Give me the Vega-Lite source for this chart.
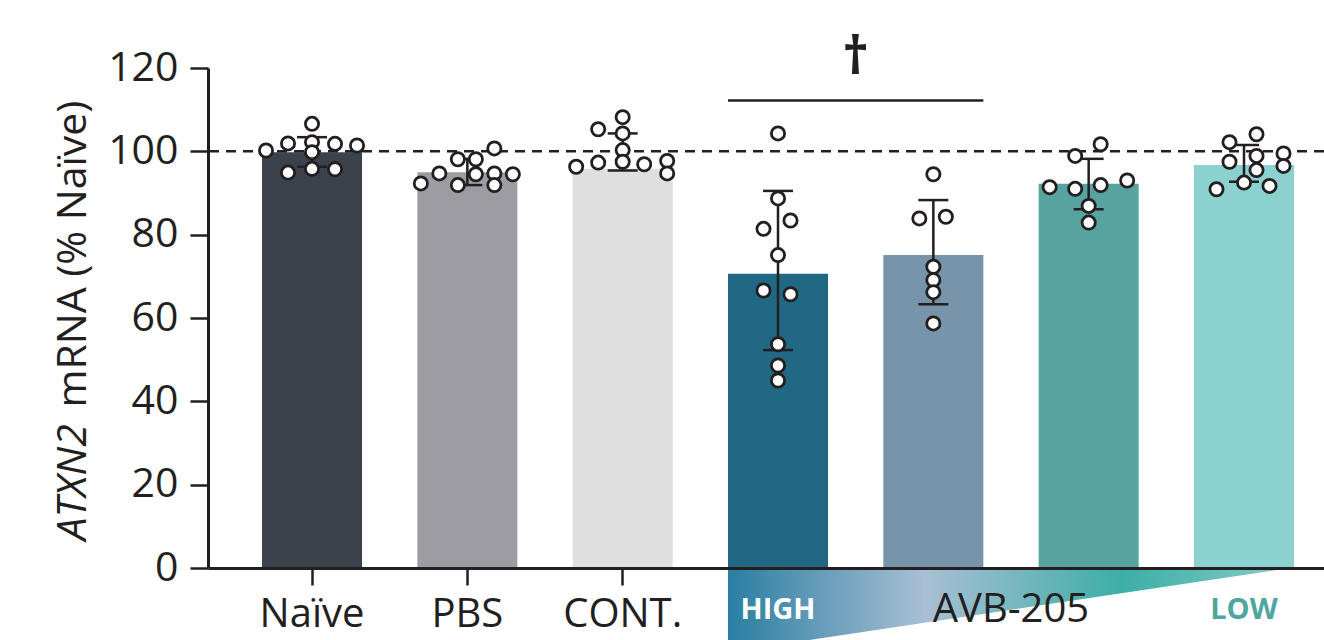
{
  "$schema": "https://vega.github.io/schema/vega-lite/v6.json",
  "width": 1116,
  "height": 500,
  "autosize": {"type": "none"},
  "padding": {"left": 208, "top": 68, "right": 0, "bottom": 72},
  "background": "white",
  "config": {
    "view": {"stroke": null},
    "font": "Open Sans",
    "axis": {"labelFont": "Open Sans", "titleFont": "Open Sans", "grid": false}
  },
  "datasets": {
    "bars": [
      {"group": "Naïve", "value": 99.8, "lo": 96.3, "hi": 103.4},
      {"group": "PBS", "value": 95.0, "lo": 91.9, "hi": 98.2},
      {"group": "CONT.", "value": 95.8, "lo": 95.4, "hi": 104.3},
      {"group": "AVB-205 HIGH", "value": 70.6, "lo": 52.3, "hi": 90.5},
      {"group": "AVB-205 MID-HIGH", "value": 75.1, "lo": 63.3, "hi": 88.3},
      {"group": "AVB-205 MID-LOW", "value": 92.2, "lo": 86.1, "hi": 98.2},
      {"group": "AVB-205 LOW", "value": 96.7, "lo": 92.7, "hi": 101.5}
    ],
    "dots": [
      {"group": "Naïve", "jitter": -0.92, "value": 100.2},
      {"group": "Naïve", "jitter": -0.48, "value": 101.9},
      {"group": "Naïve", "jitter": 0, "value": 106.6},
      {"group": "Naïve", "jitter": 0, "value": 102.2},
      {"group": "Naïve", "jitter": 0, "value": 99.8},
      {"group": "Naïve", "jitter": 0.46, "value": 101.8},
      {"group": "Naïve", "jitter": 0.9, "value": 101.4},
      {"group": "Naïve", "jitter": -0.48, "value": 94.9},
      {"group": "Naïve", "jitter": 0, "value": 95.8},
      {"group": "Naïve", "jitter": 0.46, "value": 95.7},
      {"group": "PBS", "jitter": -0.93, "value": 92.3},
      {"group": "PBS", "jitter": -0.56, "value": 94.7},
      {"group": "PBS", "jitter": -0.19, "value": 98.1},
      {"group": "PBS", "jitter": -0.19, "value": 91.9},
      {"group": "PBS", "jitter": 0.17, "value": 98.1},
      {"group": "PBS", "jitter": 0.17, "value": 94.5},
      {"group": "PBS", "jitter": 0.54, "value": 100.7},
      {"group": "PBS", "jitter": 0.54, "value": 94.7},
      {"group": "PBS", "jitter": 0.54, "value": 91.9},
      {"group": "PBS", "jitter": 0.91, "value": 94.5},
      {"group": "CONT.", "jitter": -0.93, "value": 96.3},
      {"group": "CONT.", "jitter": -0.49, "value": 105.3},
      {"group": "CONT.", "jitter": -0.49, "value": 97.3},
      {"group": "CONT.", "jitter": 0, "value": 108.2},
      {"group": "CONT.", "jitter": 0, "value": 104.3},
      {"group": "CONT.", "jitter": 0, "value": 100.3},
      {"group": "CONT.", "jitter": 0, "value": 97.5},
      {"group": "CONT.", "jitter": 0.43, "value": 96.9},
      {"group": "CONT.", "jitter": 0.89, "value": 97.7},
      {"group": "CONT.", "jitter": 0.89, "value": 94.7},
      {"group": "AVB-205 HIGH", "jitter": 0, "value": 104.3},
      {"group": "AVB-205 HIGH", "jitter": 0, "value": 88.7},
      {"group": "AVB-205 HIGH", "jitter": -0.29, "value": 81.4},
      {"group": "AVB-205 HIGH", "jitter": 0.25, "value": 83.4},
      {"group": "AVB-205 HIGH", "jitter": 0, "value": 75.1},
      {"group": "AVB-205 HIGH", "jitter": -0.29, "value": 66.6},
      {"group": "AVB-205 HIGH", "jitter": 0.25, "value": 65.7},
      {"group": "AVB-205 HIGH", "jitter": 0, "value": 53.7},
      {"group": "AVB-205 HIGH", "jitter": 0, "value": 48.6},
      {"group": "AVB-205 HIGH", "jitter": 0, "value": 45.0},
      {"group": "AVB-205 MID-HIGH", "jitter": 0, "value": 94.5},
      {"group": "AVB-205 MID-HIGH", "jitter": -0.28, "value": 83.9},
      {"group": "AVB-205 MID-HIGH", "jitter": 0.25, "value": 84.3},
      {"group": "AVB-205 MID-HIGH", "jitter": 0, "value": 72.3},
      {"group": "AVB-205 MID-HIGH", "jitter": 0, "value": 69.1},
      {"group": "AVB-205 MID-HIGH", "jitter": 0, "value": 66.2},
      {"group": "AVB-205 MID-HIGH", "jitter": 0, "value": 58.7},
      {"group": "AVB-205 MID-LOW", "jitter": -0.78, "value": 91.4},
      {"group": "AVB-205 MID-LOW", "jitter": -0.27, "value": 98.9},
      {"group": "AVB-205 MID-LOW", "jitter": 0.24, "value": 101.7},
      {"group": "AVB-205 MID-LOW", "jitter": -0.27, "value": 91.0},
      {"group": "AVB-205 MID-LOW", "jitter": 0.24, "value": 91.9},
      {"group": "AVB-205 MID-LOW", "jitter": 0.77, "value": 93.0},
      {"group": "AVB-205 MID-LOW", "jitter": 0, "value": 86.9},
      {"group": "AVB-205 MID-LOW", "jitter": 0, "value": 82.9},
      {"group": "AVB-205 LOW", "jitter": -0.29, "value": 102.2},
      {"group": "AVB-205 LOW", "jitter": 0.25, "value": 104.1},
      {"group": "AVB-205 LOW", "jitter": -0.29, "value": 97.5},
      {"group": "AVB-205 LOW", "jitter": 0.25, "value": 98.9},
      {"group": "AVB-205 LOW", "jitter": 0.25, "value": 95.5},
      {"group": "AVB-205 LOW", "jitter": 0.79, "value": 99.5},
      {"group": "AVB-205 LOW", "jitter": 0.79, "value": 96.5},
      {"group": "AVB-205 LOW", "jitter": -0.55, "value": 90.9},
      {"group": "AVB-205 LOW", "jitter": 0, "value": 92.5},
      {"group": "AVB-205 LOW", "jitter": 0.51, "value": 91.7}
    ],
    "sig": [
      {"from": "AVB-205 HIGH", "to": "AVB-205 MID-HIGH", "y": 112.2, "mark": "†", "ly": 122.4, "mid": 3.5}
    ],
    "wedge": [
      {"pos": 2.678, "top": 0, "bottom": -20.2},
      {"pos": 6.3, "top": 0, "bottom": 0}
    ],
    "dose": [
      {"pos": 3, "label": "HIGH", "kind": "high", "ly": -10},
      {"pos": 4.5, "label": "AVB-205", "kind": "name", "ly": -10},
      {"pos": 6, "label": "LOW", "kind": "low", "ly": -10}
    ]
  },
  "layer": [
    {
      "layer": [
        {
          "data": {"name": "bars"},
          "mark": {"type": "bar", "width": 100},
          "encoding": {
            "x": {
              "field": "group", "type": "nominal", "sort": null,
              "scale": {
                "type": "band",
                "domain": ["Naïve", "PBS", "CONT.", "AVB-205 HIGH", "AVB-205 MID-HIGH", "AVB-205 MID-LOW", "AVB-205 LOW"],
                "paddingInner": 0.3562, "paddingOuter": 0.2704, "align": 0.643
              },
              "axis": {
                "title": null,
                "labelAngle": 0,
                "labelExpr": "indexof(datum.value, 'AVB') >= 0 ? '' : datum.value",
                "labelFontSize": 40,
                "labelColor": "#231f20",
                "labelPadding": 9,
                "tickSize": 17,
                "tickWidth": 2.5,
                "tickColor": {"condition": {"test": "indexof(datum.value, 'AVB') >= 0", "value": "rgba(0,0,0,0)"}, "value": "#231f20"},
                "domainColor": "#231f20",
                "domainWidth": 3,
                "zindex": 1
              }
            },
            "y": {
              "field": "value", "type": "quantitative",
              "scale": {"domain": [0, 120], "nice": false},
              "axis": {
                "values": [0, 20, 40, 60, 80, 100, 120],
                "title": "mRNA (% Naïve)",
                "titleFontSize": 41,
                "titleFontWeight": "normal",
                "titleColor": "#231f20",
                "titleAngle": -90,
                "titleAlign": "left",
                "titleBaseline": "alphabetic",
                "titleX": -123,
                "titleY": 339,
                "labelFontSize": 41,
                "labelColor": "#231f20",
                "labelPadding": 12,
                "tickSize": 18,
                "tickWidth": 2.5,
                "tickColor": "#231f20",
                "domainColor": "#231f20",
                "domainWidth": 3,
                "zindex": 1
              }
            },
            "color": {
              "field": "group", "type": "nominal", "legend": null,
              "scale": {
                "domain": ["Naïve", "PBS", "CONT.", "AVB-205 HIGH", "AVB-205 MID-HIGH", "AVB-205 MID-LOW", "AVB-205 LOW"],
                "range": ["#3a424b", "#9d9ca2", "#e0dfe0", "#216885", "#7794aa", "#57a3a0", "#8ad1d0"]
              }
            }
          }
        },
        {
          "data": {"values": [{"ref": 100}]},
          "mark": {"type": "rule", "strokeDash": [10, 7], "strokeWidth": 2.5, "color": "#231f20"},
          "encoding": {
            "y": {"field": "ref", "type": "quantitative", "scale": {"domain": [0, 120]}}
          }
        },
        {
          "data": {"name": "bars"},
          "mark": {"type": "rule", "strokeWidth": 2.5, "color": "#231f20"},
          "encoding": {
            "x": {"field": "group", "type": "nominal", "sort": null},
            "y": {"field": "lo", "type": "quantitative", "scale": {"domain": [0, 120]}},
            "y2": {"field": "hi"}
          }
        },
        {
          "data": {"name": "bars"},
          "mark": {"type": "tick", "size": 30, "thickness": 2.5, "color": "#231f20", "opacity": 1},
          "encoding": {
            "x": {"field": "group", "type": "nominal", "sort": null},
            "y": {"field": "lo", "type": "quantitative", "scale": {"domain": [0, 120]}}
          }
        },
        {
          "data": {"name": "bars"},
          "mark": {"type": "tick", "size": 30, "thickness": 2.5, "color": "#231f20", "opacity": 1},
          "encoding": {
            "x": {"field": "group", "type": "nominal", "sort": null},
            "y": {"field": "hi", "type": "quantitative", "scale": {"domain": [0, 120]}}
          }
        },
        {
          "data": {"name": "sig"},
          "mark": {"type": "rule", "strokeWidth": 2.5, "color": "#231f20"},
          "encoding": {
            "x": {"field": "from", "type": "nominal", "sort": null, "bandPosition": 0},
            "x2": {"field": "to", "bandPosition": 1},
            "y": {"field": "y", "type": "quantitative", "scale": {"domain": [0, 120]}}
          }
        }
      ]
    },
    {
      "data": {"name": "dots"},
      "mark": {"type": "point", "filled": false, "fill": "white", "fillOpacity": 1, "stroke": "#231f20", "strokeWidth": 2.8, "size": 175, "opacity": 1},
      "encoding": {
        "x": {
          "field": "group", "type": "nominal", "sort": null,
          "scale": {
            "type": "band",
            "domain": ["Naïve", "PBS", "CONT.", "AVB-205 HIGH", "AVB-205 MID-HIGH", "AVB-205 MID-LOW", "AVB-205 LOW"],
            "paddingInner": 0.3562, "paddingOuter": 0.2704, "align": 0.643
          },
          "axis": null
        },
        "xOffset": {"field": "jitter", "type": "quantitative", "scale": {"domain": [-1, 1], "nice": false, "zero": false}},
        "y": {
          "field": "value", "type": "quantitative", "scale": {"domain": [0, 120]},
          "axis": {
            "orient": "left",
            "domain": false, "ticks": false, "labels": false, "grid": false,
            "title": "ATXN2",
            "titleFontSize": 41,
            "titleFontStyle": "italic",
            "titleFontWeight": "normal",
            "titleColor": "#231f20",
            "titleAngle": -90,
            "titleAlign": "left",
            "titleBaseline": "alphabetic",
            "titleX": -123,
            "titleY": 472
          }
        }
      }
    },
    {
      "layer": [
        {
          "data": {"name": "wedge"},
          "mark": {
            "type": "area",
            "fill": {
              "gradient": "linear", "x1": 0, "y1": 0, "x2": 1, "y2": 0,
              "stops": [
                {"offset": 0, "color": "#2a7ea2"},
                {"offset": 0.35, "color": "#a9bfd4"},
                {"offset": 0.7, "color": "#3daea6"},
                {"offset": 1, "color": "#86cdc6"}
              ]
            }
          },
          "encoding": {
            "x": {"field": "pos", "type": "quantitative", "scale": {"domain": [-0.6695, 6.5151], "nice": false, "zero": false}, "axis": null},
            "y": {"field": "top", "type": "quantitative", "scale": {"domain": [0, 120]}, "axis": null},
            "y2": {"field": "bottom"}
          }
        },
        {
          "data": {"name": "sig"},
          "mark": {"type": "text", "fontSize": 52, "fontWeight": "bold", "color": "#231f20", "baseline": "middle", "align": "center"},
          "encoding": {
            "x": {"field": "mid", "type": "quantitative", "axis": null},
            "y": {"field": "ly", "type": "quantitative", "axis": null},
            "text": {"field": "mark"}
          }
        },
        {
          "data": {"name": "dose"},
          "transform": [{"filter": "datum.kind == 'high'"}],
          "mark": {"type": "text", "fontSize": 29, "fontWeight": "bold", "color": "white", "baseline": "middle", "align": "center"},
          "encoding": {
            "x": {"field": "pos", "type": "quantitative", "axis": null},
            "y": {"field": "ly", "type": "quantitative", "axis": null},
            "text": {"field": "label"}
          }
        },
        {
          "data": {"name": "dose"},
          "transform": [{"filter": "datum.kind == 'name'"}],
          "mark": {"type": "text", "fontSize": 40, "color": "#231f20", "baseline": "middle", "align": "center"},
          "encoding": {
            "x": {"field": "pos", "type": "quantitative", "axis": null},
            "y": {"field": "ly", "type": "quantitative", "axis": null},
            "text": {"field": "label"}
          }
        },
        {
          "data": {"name": "dose"},
          "transform": [{"filter": "datum.kind == 'low'"}],
          "mark": {"type": "text", "fontSize": 29, "fontWeight": "bold", "color": "#4fa6a0", "baseline": "middle", "align": "center"},
          "encoding": {
            "x": {"field": "pos", "type": "quantitative", "axis": null},
            "y": {"field": "ly", "type": "quantitative", "axis": null},
            "text": {"field": "label"}
          }
        }
      ]
    }
  ],
  "resolve": {"scale": {"x": "independent"}, "axis": {"y": "independent"}}
}
